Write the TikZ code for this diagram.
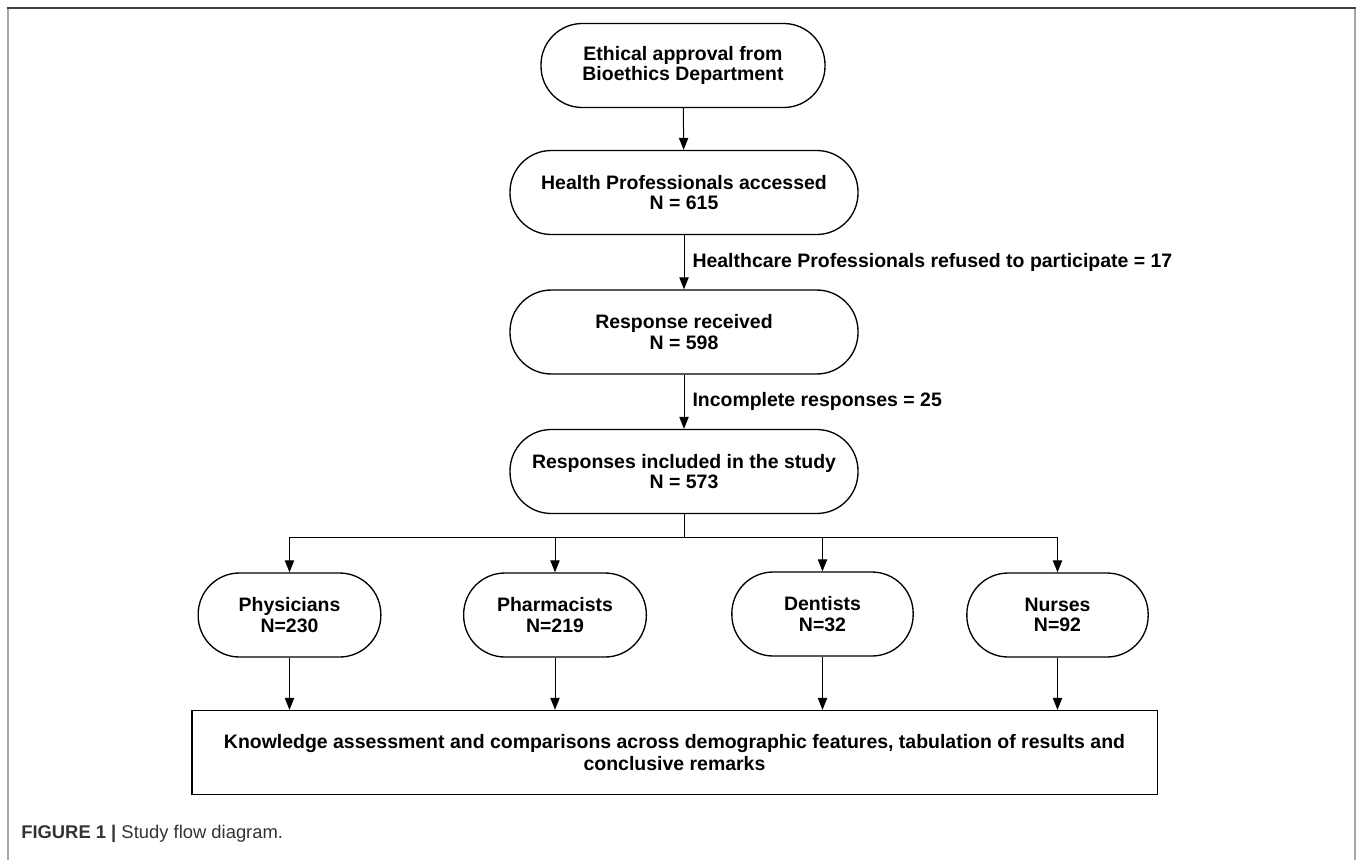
\documentclass[tikz,border=0pt]{standalone}
\usepackage{fontspec}
\setmainfont{Liberation Sans}
\usetikzlibrary{arrows.meta}

\begin{document}
\begin{tikzpicture}[x=0.75pt,y=-0.75pt,
	stage/.style={draw,line width=1pt,rounded corners=31pt,align=center,inner sep=0pt,
		minimum height=63pt,font=\fontsize{14.6}{15.3}\selectfont\bfseries},
	arr/.style={line width=0.75pt,-{Triangle[length=9pt,width=7pt]}},
	lbl/.style={font=\fontsize{14.6}{15.3}\selectfont\bfseries,inner sep=0pt}]
\useasboundingbox (0,0) rectangle (1358,860);
\draw[gray!70,line width=1.5pt] (8,860) -- (8,8);
\draw[gray!70,line width=1.5pt] (1355,8) -- (1355,860);
\draw[black!75,line width=1.2pt] (7.3,8) -- (1355.7,8);

\node[stage,minimum width=213pt] (eth) at (683,65.5) {Ethical approval from\\Bioethics Department};
\node[stage,minimum width=261pt] (hp) at (684,192.5) {Health Professionals accessed\\N = 615};
\node[stage,minimum width=261pt] (rr) at (684,332) {Response received\\N = 598};
\node[stage,minimum width=261pt] (ri) at (684,471.5) {Responses included in the study\\N = 573};
\node[stage,minimum width=137pt] (phy) at (289.5,615) {Physicians\\N=230};
\node[stage,minimum width=137pt] (pha) at (555,615) {Pharmacists\\N=219};
\node[stage,minimum width=136pt] (den) at (822.5,614) {Dentists\\N=32};
\node[stage,minimum width=136pt] (nur) at (1057.5,615) {Nurses\\N=92};
\node[draw,line width=1pt,align=center,minimum width=724pt,minimum height=63pt,
	font=\fontsize{14.6}{16.5}\selectfont\bfseries] (ka) at (674.5,752.5) {Knowledge assessment and comparisons across demographic features, tabulation of results and\\conclusive remarks};

\draw[arr] (eth) -- (hp);
\draw[arr] (hp) -- (rr) node[midway,right=6pt,lbl]{Healthcare Professionals refused to participate = 17};
\draw[arr] (rr) -- (ri) node[midway,right=6pt,lbl]{Incomplete responses = 25};
\coordinate (br) at (684,537);
\draw[line width=0.75pt] (ri.south) -- (br);
\foreach \n in {phy,pha,den,nur} {
	\draw[arr] (br) -| (\n.north);
	\draw[arr] (\n.south) -- (\n.south |- ka.north);
}

\node[anchor=west,inner sep=0pt,text=black!80,font=\fontsize{13.8}{15}\selectfont] (cap) at (21,834) {\textbf{FIGURE 1 |} Study flow diagram.};
\end{tikzpicture}
\end{document}
